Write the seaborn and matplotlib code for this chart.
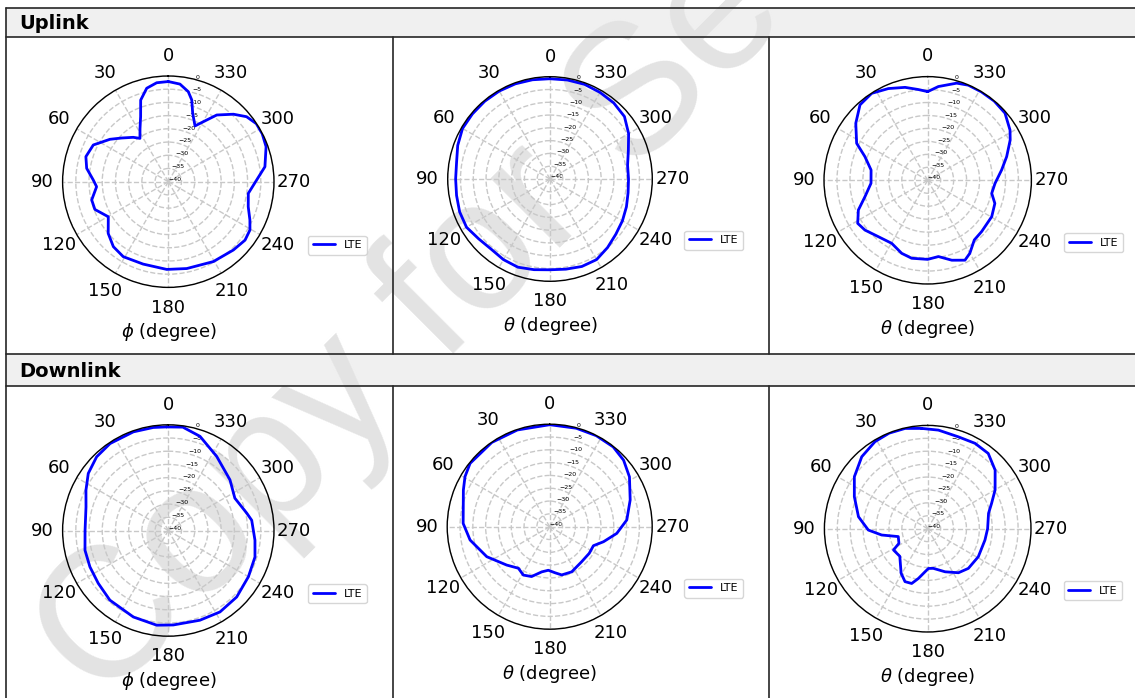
import numpy as np
import matplotlib
matplotlib.use("Agg")
import matplotlib.pyplot as plt
import seaborn as sns
from matplotlib.patches import Rectangle
from matplotlib.lines import Line2D

# radiation patterns: angle (deg) and gain (dB)
ul_phi_deg = [0, 6.7, 13, 18.7, 23, 28, 33.2, 38.3, 46.9, 54, 63.9, 73.1, 80.7, 88.7, 94,
              103.4, 110.7, 120.3, 130.7, 139.8, 149, 163, 179, 192, 209.4, 223.6, 232.7,
              239.4, 244.9, 252.6, 261.7, 271, 278.8, 289.7, 297, 303.4, 309.7, 316, 324,
              329.7, 334.4, 340.4, 344, 347.5, 353.2]
ul_phi_db = [-2.1, -2.3, -3.7, -7.4, -13.2, -17.2, -20.4, -18.6, -15.8, -12.7, -8.4, -7.4,
             -8.7, -11.6, -12.8, -10.2, -10.3, -13.7, -10.0, -7.8, -6.9, -7.4, -6.8, -6.4,
             -5.3, -4.3, -3.5, -4.1, -5.9, -8.3, -9.4, -6.6, -3.0, -0.7, -0.1, -0.1, -1.5,
             -4.5, -8.8, -13.7, -16.6, -12.5, -7.8, -5.1, -2.8]

ul_th1_deg = list(range(0, 360, 10))
ul_th1_db = [-0.8, -0.6, -0.4, -0.3, -0.3, -0.4, -0.5, -1.6, -2.9, -3.1, -2.9, -2.4, -2.3,
             -3.6, -4.2, -3.6, -3.3, -4.0, -4.5, -4.2, -3.6, -3.6, -5.0, -6.4, -7.3, -8.2,
             -9.0, -9.3, -9.2, -7.4, -4.5, -2.0, -1.2, -0.9, -0.6, -0.7]

ul_th2_deg = [0, 5.9, 13.7, 23.2, 32.8, 41.9, 51.6, 62.5, 69.3, 79.7, 93, 104.6, 113.2,
              121.6, 128.4, 138.8, 150.3, 160.4, 168.4, 180, 188, 196.8, 205, 210, 218,
              226.5, 240.4, 251, 258.5, 267.4, 278, 286.7, 296, 301.4, 311, 320, 328.7,
              336.9, 343.4, 353.5]
ul_th2_db = [-5.8, -4.8, -3.1, -1.5, -0.1, -0.9, -4.6, -9.1, -14.1, -17.8, -18.1, -15.0,
             -10.9, -8.3, -9.1, -11.1, -12.0, -10.1, -9.3, -9.5, -10.3, -7.8, -6.0, -7.5,
             -10.8, -11.3, -11.6, -12.6, -14.8, -14.0, -11.2, -8.2, -4.6, -2.8, -0.5, -0.1,
             -0.1, -0.1, -0.9, -3.6]

dl_phi_deg = [1, 8.3, 19.5, 33.8, 44.2, 54.5, 63.9, 74, 89.8, 103.3, 114.9, 127, 140, 158,
              173, 183, 199.4, 212.4, 225.8, 240, 253, 263.6, 277, 282.5, 295.9, 309.4,
              326.9, 341.4, 352]
dl_phi_db = [-0.8, -0.6, -0.4, -0.4, -1.1, -2.8, -5.3, -7.6, -8.5, -7.6, -7.3, -6.8, -5.6,
             -4.7, -3.9, -4.2, -4.0, -3.5, -3.9, -5.0, -5.7, -7.0, -8.2, -9.6, -12.0, -9.8,
             -6.5, -2.4, -0.5]

dl_th1_deg = [0, 18.5, 34.5, 51.5, 59.4, 67, 87.8, 99.5, 115.5, 131.7, 143, 151.4, 160, 170,
              178.2, 186.6, 194, 206, 222.4, 236, 246.5, 254.4, 264.3, 275, 288.4, 302,
              312, 321.5, 332.9, 344.9]
dl_th1_db = [-0.2, -0.2, -0.1, -0.3, -1.6, -3.4, -6.2, -8.5, -12.8, -17.5, -19.7, -18.5,
             -19.3, -22.1, -23.0, -21.9, -20.6, -20.4, -21.5, -21.4, -21.4, -18.2, -13.7,
             -9.8, -6.9, -3.3, -1.2, -0.2, -0.1, -0.2]

dl_th2_deg = [3.4, 12.7, 22, 31.2, 42.5, 54.7, 66.4, 80.2, 91.3, 97.8, 105, 117, 121.9,
              134.7, 149.2, 156.8, 163.7, 169.4, 176.5, 181, 188, 202, 214.9, 225.7, 241,
              258.8, 270, 284.2, 291.6, 299.9, 311, 321.2, 331, 341.6, 353.8]
dl_th2_db = [-1.1, -0.2, -0.1, -0.6, -2.2, -5.2, -9.0, -12.8, -17.0, -22.0, -28.2, -27.5,
             -24.4, -24.8, -19.9, -17.7, -17.9, -20.4, -23.3, -24.6, -24.5, -22.0, -19.2,
             -18.0, -17.6, -17.4, -16.8, -15.7, -13.4, -9.9, -5.4, -2.6, -2.2, -2.5, -1.6]

row_titles = ["Uplink", "Downlink"]
phi_label = r"$\phi$ (degree)"
theta_label = r"$\theta$ (degree)"

sns.set_style("white")
plt.rcParams["font.family"] = ["DejaVu Sans"]
plt.rcParams["text.color"] = "black"
plt.rcParams["xtick.color"] = "black"
plt.rcParams["ytick.color"] = "black"

W, H = 1135, 698
fig = plt.figure(figsize=(W / 100, H / 100), dpi=100)


def fx(x):
    return x / W


def fy(y):
    return 1 - y / H


# table look: grey header bands and cell borders
for (y0, y1), title in zip([(8, 37), (354, 386)], row_titles):
    fig.add_artist(Rectangle((fx(6), fy(y1)), 1 - fx(6), (y1 - y0) / H,
                             transform=fig.transFigure, facecolor="#f0f0f0",
                             edgecolor="none", zorder=-3))
    fig.text(fx(19), fy((y0 + y1) / 2 + 1), title, fontsize=14, fontweight="bold",
             ha="left", va="center", zorder=5)

line_kw = dict(transform=fig.transFigure, color="#262626", lw=1.2, zorder=5)
for y in [8, 37, 354, 386]:
    fig.add_artist(Line2D([fx(6), 1], [fy(y), fy(y)], **line_kw))
fig.add_artist(Line2D([fx(6), fx(6)], [fy(8), 0], **line_kw))
for x in [393, 769]:
    fig.add_artist(Line2D([fx(x), fx(x)], [fy(37), fy(354)], **line_kw))
    fig.add_artist(Line2D([fx(x), fx(x)], [fy(386), 0], **line_kw))

# watermark
fig.text(fx(412), fy(328), "Copy for Se", rotation=45, fontsize=133, color="#e3e3e3",
         family=["Liberation Sans", "DejaVu Sans"], ha="center", va="center", zorder=-2)

panels = [
    (ul_phi_deg, ul_phi_db, phi_label, 168.3, 181.7, 105.7),
    (ul_th1_deg, ul_th1_db, theta_label, 550.0, 179.0, 102.3),
    (ul_th2_deg, ul_th2_db, theta_label, 927.7, 180.3, 103.7),
    (dl_phi_deg, dl_phi_db, phi_label, 168.3, 530.5, 105.7),
    (dl_th1_deg, dl_th1_db, theta_label, 549.7, 526.7, 102.5),
    (dl_th2_deg, dl_th2_db, theta_label, 927.7, 528.7, 103.3),
]

for deg, db, xlabel, cx, cy, R in panels:
    ax = fig.add_axes([fx(cx - R), fy(cy + R), 2 * R / W, 2 * R / H], projection="polar")
    ax.set_facecolor("none")
    theta = np.deg2rad(list(deg) + [deg[0] + 360])
    r = list(db) + [db[0]]
    sns.lineplot(x=theta, y=r, ax=ax, color="blue", lw=2, label="LTE",
                 sort=False, estimator=None, solid_joinstyle="round")
    ax.set_theta_zero_location("N")
    ax.set_ylim(-40, 0)
    ax.set_yticks(range(-40, 1, 5))
    ax.set_rlabel_position(345)
    ax.set_thetagrids(range(0, 360, 30), labels=[str(a) for a in range(0, 360, 30)])
    ax.tick_params(axis="x", labelsize=13, pad=4)
    ax.tick_params(axis="y", labelsize=4.5)
    ax.grid(True, color="#c8c8c8", linestyle="--", lw=1)
    ax.spines["polar"].set_color("black")
    ax.spines["polar"].set_linewidth(1)
    ax.set_xlabel("")
    ax.set_ylabel("")
    ax.legend(loc="center", bbox_to_anchor=(1.30, 0.2), fontsize=8, frameon=True)
    fig.text(fx(cx), fy(cy + R + 45), xlabel, ha="center", va="center", fontsize=13)

fig.savefig("out.png", dpi=100)
